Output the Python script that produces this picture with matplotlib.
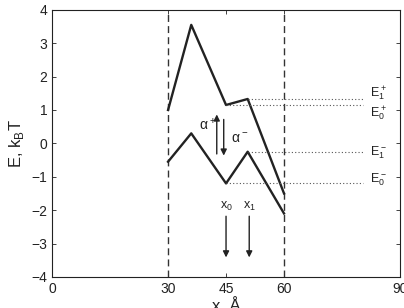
import matplotlib
matplotlib.use("Agg")
import matplotlib.pyplot as plt

plt.rcParams['font.family'] = ['Liberation Sans', 'DejaVu Sans']

upper_x = [30, 36, 45, 50.6, 60]
upper_y = [1.0, 3.55, 1.15, 1.33, -1.5]
lower_x = [30, 36, 45, 50.6, 60]
lower_y = [-0.55, 0.3, -1.2, -0.25, -2.1]

levels_x0 = [50.6, 45, 50.6, 45]
levels_y = [1.33, 1.15, -0.25, -1.2]
level_labels = [r'$\mathregular{E_1^+}$', r'$\mathregular{E_0^+}$',
                r'$\mathregular{E_1^-}$', r'$\mathregular{E_0^-}$']
level_label_y = [1.5, 0.9, -0.27, -1.1]

xticks = [0, 30, 45, 60, 90]
yticks = [-4, -3, -2, -1, 0, 1, 2, 3, 4]

fig = plt.figure(figsize=(4.04, 3.08), dpi=100)
ax = fig.add_axes([0.129, 0.101, 0.861, 0.867])

ax.axvline(30, color='#333333', ls=(0, (5, 3)), lw=1.0)
ax.axvline(60, color='#333333', ls=(0, (5, 3)), lw=1.0)

ax.plot(upper_x, upper_y, color='#222222', lw=1.7)
ax.plot(lower_x, lower_y, color='#222222', lw=1.7)

for x0, y, lab, ly in zip(levels_x0, levels_y, level_labels, level_label_y):
    ax.plot([x0, 80.5], [y, y], color='#555555', ls=(0, (1, 2)), lw=0.8)
    ax.text(82.3, ly, lab, fontsize=9, va='center', ha='left', color='#222222')

arrow = dict(arrowstyle='-|>', color='#222222', lw=1.0, mutation_scale=9)
ax.annotate('', xy=(42.6, 0.95), xytext=(42.6, -0.4), arrowprops=arrow)
ax.annotate('', xy=(44.4, -0.45), xytext=(44.4, 0.8), arrowprops=arrow)
ax.text(40.3, 0.55, r'$\mathregular{\alpha^+}$', fontsize=10, ha='center', va='center', color='#222222')
ax.text(48.6, 0.15, r'$\mathregular{\alpha^-}$', fontsize=10, ha='center', va='center', color='#222222')

ax.annotate('', xy=(45, -3.5), xytext=(45, -2.1), arrowprops=arrow)
ax.annotate('', xy=(51, -3.5), xytext=(51, -2.1), arrowprops=arrow)
ax.text(45, -1.9, r'$\mathregular{x_0}$', fontsize=9, ha='center', va='center', color='#222222')
ax.text(51, -1.9, r'$\mathregular{x_1}$', fontsize=9, ha='center', va='center', color='#222222')

ax.set_xlim(0, 90)
ax.set_ylim(-4, 4)
ax.set_xticks(xticks)
ax.set_yticks(yticks)
ax.set_yticklabels([str(t).replace('-', '\u2212') for t in yticks])
ax.tick_params(direction='in', top=True, right=True, length=3, width=0.6, labelsize=10, colors='#222222')
for s in ax.spines.values():
    s.set_linewidth(0.8)
    s.set_color('#222222')

ax.set_xlabel('x, Å', fontsize=12, labelpad=1, color='#222222')
ax.set_ylabel(r'E, k$_\mathregular{B}$T', fontsize=12, labelpad=4, color='#222222')

fig.savefig('out.png', dpi=100)
